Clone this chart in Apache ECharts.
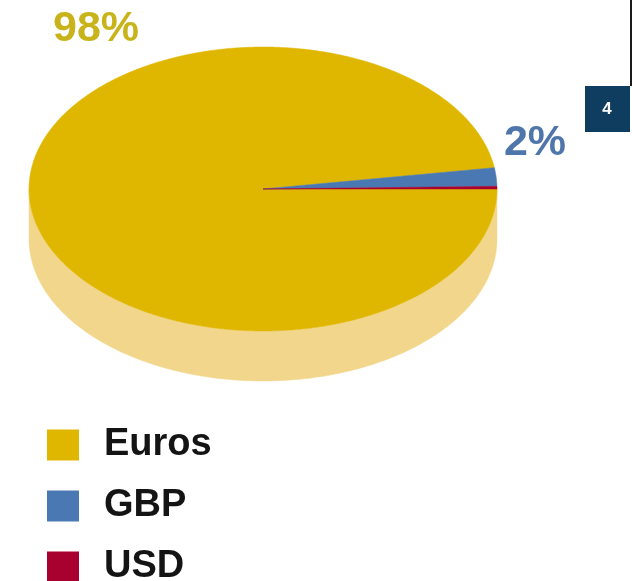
<!DOCTYPE html>
<html>
<head>
<meta charset="utf-8">
<script src="https://cdn.jsdelivr.net/npm/echarts@6/dist/echarts.min.js"></script>
<style>
  html, body { margin: 0; padding: 0; background: #ffffff; }
  #chart { width: 632px; height: 581px; }
</style>
</head>
<body>
<div id="chart"></div>
<script>
// Currency split of the portfolio (percent)
const categories = ['Euros', 'GBP', 'USD'];
const shares = [97.6, 2.1, 0.3];

// Palette: top faces, side walls, value label colours
const topColors = ['#E0B700', '#4A78B2', '#A8002F'];
const sideColors = ['#F2D68C', '#9DB5D6', '#D88A9E'];
const labelColors = ['#C8B41A', '#4F76AA', '#A8002F'];
// which slices carry a value label, and where it sits
const labelAnchors = [[96, 29], [535, 143], null];

// Disc geometry (pixels)
const CX = 263, CY = 189, RX = 234, RY = 142, DEPTH = 50;
const START_DEG = 0;             // slices are laid out counter-clockwise from here
const drawOrder = [2, 1, 0];     // USD, GBP, then Euros going round

// cumulative start/end for each category in the drawing order
const ranges = [];
let acc = 0;
drawOrder.forEach(function (i) {
  ranges[i] = [acc, acc + shares[i]];
  acc += shares[i];
});
const total = acc;

function pt(deg, dy) {
  const r = deg * Math.PI / 180;
  return [CX + RX * Math.cos(r), CY + dy - RY * Math.sin(r)];
}

function arc(a0, a1, dy) {
  const pts = [];
  const n = Math.max(2, Math.ceil((a1 - a0) / 0.5));
  for (let k = 0; k <= n; k++) pts.push(pt(a0 + (a1 - a0) * k / n, dy));
  return pts;
}

// front half of the disc (lower half on screen) is where side walls show
function frontParts(a0, a1) {
  const parts = [];
  for (let k = -1; k <= 1; k++) {
    const lo = Math.max(a0, 180 + 360 * k);
    const hi = Math.min(a1, 360 + 360 * k);
    if (hi > lo) parts.push([lo, hi]);
  }
  return parts;
}

function makeRender(idx) {
  return function (params, api) {
    const s = api.value(0), e = api.value(1), v = api.value(2);
    const a0 = START_DEG + s / total * 360;
    const a1 = START_DEG + e / total * 360;
    const children = [];

    frontParts(a0, a1).forEach(function (p) {
      const top = arc(p[0], p[1], 0);
      const bottom = arc(p[0], p[1], DEPTH).reverse();
      children.push({
        type: 'polygon',
        z2: 1,
        shape: { points: top.concat(bottom) },
        style: { fill: sideColors[idx], stroke: sideColors[idx], lineWidth: 0.5 }
      });
    });

    children.push({
      type: 'polygon',
      z2: 10,
      shape: { points: [[CX, CY]].concat(arc(a0, a1, 0)) },
      style: { fill: api.visual('color'), stroke: api.visual('color'), lineWidth: 0.5 }
    });

    const anchor = labelAnchors[idx];
    if (anchor) {
      children.push({
        type: 'text',
        z2: 20,
        x: anchor[0],
        y: anchor[1],
        style: {
          text: Math.round(v / total * 100) + '%',
          fill: labelColors[idx],
          font: 'bold 43px "Liberation Sans", Arial, sans-serif',
          align: 'center',
          verticalAlign: 'middle'
        }
      });
    }
    return { type: 'group', children: children };
  };
}

const chart = echarts.init(document.getElementById('chart'), null, { renderer: 'canvas' });

const series = categories.map(function (name, i) {
  return {
    type: 'custom',
    name: name,
    coordinateSystem: 'none',
    silent: true,
    renderItem: makeRender(i),
    data: [[ranges[i][0], ranges[i][1], shares[i]]]
  };
});

chart.setOption({
  animation: false,
  backgroundColor: '#ffffff',
  color: topColors,
  legend: {
    orient: 'vertical',
    left: 47,
    top: 426,
    width: 300,
    height: 200,
    padding: 0,
    icon: 'rect',
    itemWidth: 32,
    itemHeight: 31,
    itemGap: 23,
    selectedMode: false,
    data: categories,
    textStyle: {
      fontFamily: '"Liberation Sans", Arial, sans-serif',
      fontSize: 38,
      fontWeight: 'bold',
      color: '#141414',
      lineHeight: 36,
      padding: [0, 0, 0, 20]
    }
  },
  graphic: [
    {
      type: 'rect',
      left: 585, top: 86,
      shape: { width: 45, height: 46 },
      style: { fill: '#0E3D60' }
    },
    {
      type: 'text',
      x: 607, y: 109,
      style: {
        text: '4',
        fill: '#ffffff',
        font: 'bold 17px "Liberation Sans", Arial, sans-serif',
        align: 'center',
        verticalAlign: 'middle'
      }
    },
    {
      type: 'rect',
      left: 630, top: 0,
      shape: { width: 2, height: 86 },
      style: { fill: '#1a1a1a' }
    }
  ],
  series: series
});
</script>
</body>
</html>
